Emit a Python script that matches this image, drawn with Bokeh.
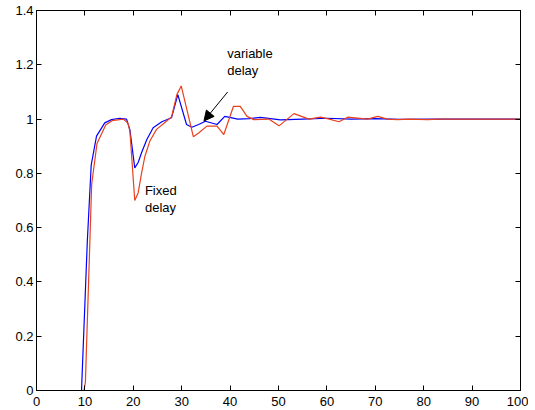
from bokeh.plotting import figure
from bokeh.models import LinearAxis, Range1d, Arrow, NormalHead, Label, FixedTicker, CustomJSTickFormatter
from bokeh.embed import file_html
from bokeh.resources import INLINE

# Variable-delay response (blue)
blue_x = [0, 9.3, 10.5, 11.3, 12.4, 14.1, 15.5, 17.2, 18.6, 19.3, 20.3, 21.0, 21.7, 22.8, 24.1, 25.9,
          27.9, 29.2, 31.0, 32.1, 33.5, 34.9, 37.3, 38.9, 41.6, 44.0, 46.3, 50.4, 55.0, 60.0, 65.0,
          70.0, 75.0, 82.0, 100.0]
blue_y = [0, 0, 0.55, 0.83, 0.937, 0.986, 0.998, 1.003, 1.0, 0.96, 0.82, 0.84, 0.876, 0.925, 0.968, 0.99,
          1.005, 1.09, 0.98, 0.97, 0.98, 0.992, 0.98, 1.01, 1.0, 1.002, 1.006, 0.997, 1.0, 1.003, 1.0,
          1.002, 0.999, 1.0, 1.0]

# Fixed-delay response (red)
red_x = [0, 9.8, 10.1, 11.4, 12.5, 14.3, 15.6, 17.9, 18.9, 19.3, 20.3, 21.0, 21.7, 22.4, 23.4, 24.8,
         26.6, 27.9, 29.0, 29.9, 32.4, 33.5, 35.2, 37.3, 38.7, 40.7, 42.1, 43.5, 44.9, 48.0, 50.1,
         53.2, 56.3, 58.7, 60.5, 62.5, 64.3, 68.4, 70.5, 72.5, 74.6, 77.0, 80.8, 83.0, 100.0]
red_y = [0, 0, 0.03, 0.76, 0.91, 0.978, 0.994, 1.0, 0.985, 0.955, 0.70, 0.728, 0.80, 0.863, 0.918, 0.962,
         0.988, 1.008, 1.09, 1.122, 0.935, 0.949, 0.974, 0.974, 0.943, 1.047, 1.047, 1.01, 0.998, 1.0, 0.975,
         1.02, 1.0, 1.007, 1.0, 0.99, 1.007, 1.0, 1.01, 1.0, 0.998, 1.0, 0.998, 1.0, 1.0]

x_ticks = [0, 10, 20, 30, 40, 50, 60, 70, 80, 90, 100]
y_ticks = [0, 0.2, 0.4, 0.6, 0.8, 1.0, 1.2, 1.4]
y_tick_labels = {0: "0", 0.2: "0.2", 0.4: "0.4", 0.6: "0.6", 0.8: "0.8", 1.0: "1", 1.2: "1.2", 1.4: "1.4"}

FONT = "Liberation Sans"

p = figure(width=528, height=410, output_backend="svg", toolbar_location=None,
           x_range=Range1d(0, 100), y_range=Range1d(0, 1.4),
           min_border_left=36, min_border_right=8, min_border_top=10, min_border_bottom=20)
p.xgrid.visible = False
p.ygrid.visible = False
p.outline_line_color = "black"
p.outline_line_width = 1
p.background_fill_color = "white"
p.border_fill_color = "white"

for ax in p.xaxis:
    ax.ticker = FixedTicker(ticks=x_ticks)
for ax in p.yaxis:
    ax.ticker = FixedTicker(ticks=y_ticks)
    ax.major_label_overrides = y_tick_labels

for ax in list(p.xaxis) + list(p.yaxis):
    ax.major_tick_in = 5
    ax.major_tick_out = 0
    ax.minor_tick_in = 0
    ax.minor_tick_out = 0
    ax.major_label_standoff = 3
    ax.major_label_text_font = FONT
    ax.major_label_text_font_size = "13px"
    ax.major_label_text_color = "black"
    ax.axis_line_color = "black"
    ax.major_tick_line_color = "black"
for ax in p.xaxis:
    ax.major_label_standoff = 6

# box ticks on top and right (no labels)
blank = CustomJSTickFormatter(code="return '';")
top = LinearAxis(ticker=FixedTicker(ticks=x_ticks), formatter=blank,
                 major_tick_in=5, major_tick_out=0, minor_tick_in=0, minor_tick_out=0,
                 major_label_standoff=0, axis_line_color="black")
right = LinearAxis(ticker=FixedTicker(ticks=y_ticks), formatter=blank,
                   major_tick_in=5, major_tick_out=0, minor_tick_in=0, minor_tick_out=0,
                   major_label_standoff=0, axis_line_color="black")
p.add_layout(top, "above")
p.add_layout(right, "right")

p.line(blue_x, blue_y, line_color="#0000ff", line_width=1.2)
p.line(red_x, red_y, line_color="#e8401c", line_width=1.2)

# annotations
for i, t in enumerate(["variable", "delay"]):
    p.add_layout(Label(x=39.4, y=1.268 - i * 0.062, text=t, text_font=FONT, text_font_size="13px",
                       text_color="black", text_baseline="top", text_align="left"))
for i, t in enumerate(["Fixed", "delay"]):
    p.add_layout(Label(x=22.4, y=0.763 - i * 0.062, text=t, text_font=FONT, text_font_size="13px",
                       text_color="black", text_baseline="top", text_align="left"))

p.add_layout(Arrow(x_start=39.5, y_start=1.1, x_end=34.6, y_end=0.993, line_color="black", line_width=1,
                   end=NormalHead(size=10, fill_color="black", line_color="black")))

open("out.html", "w").write(file_html(p, INLINE))
